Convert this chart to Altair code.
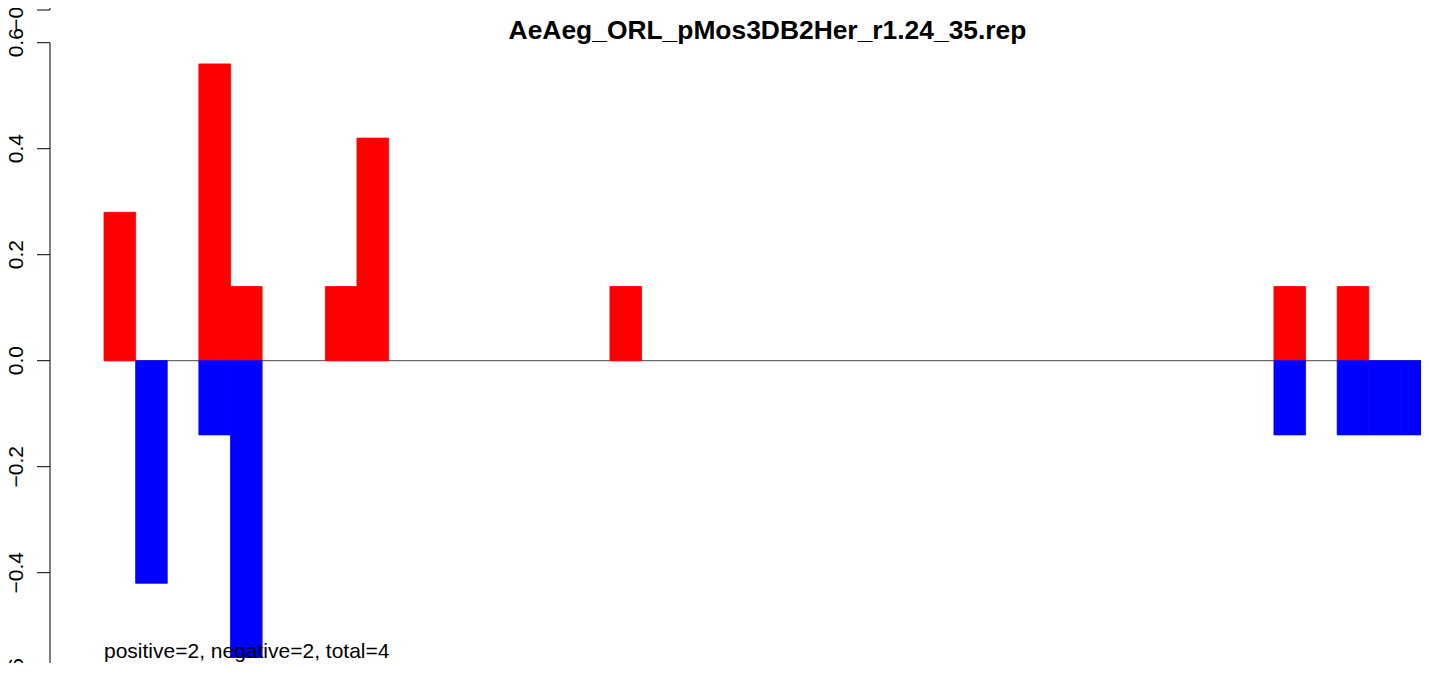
import altair as alt
import pandas as pd

# ---- data ----
bins = list(range(42))
pos_vals = [0.28, 0, 0, 0.56, 0.14, 0, 0, 0.14, 0.42, 0,
            0, 0, 0, 0, 0, 0, 0.14, 0, 0, 0,
            0, 0, 0, 0, 0, 0, 0, 0, 0, 0,
            0, 0, 0, 0, 0, 0, 0, 0.14, 0, 0.14,
            0, 0]
neg_vals = [0, -0.42, 0, -0.14, -0.56, 0, 0, 0, 0, 0,
            0, 0, 0, 0, 0, 0, 0, 0, 0, 0,
            0, 0, 0, 0, 0, 0, 0, 0, 0, 0,
            0, 0, 0, 0, 0, 0, 0, -0.14, 0, -0.14,
            -0.14, -0.14]
tick_values = [-0.6, -0.4, -0.2, 0.0, 0.2, 0.4, 0.6]
tick_labels = ["\u22120.6", "\u22120.4", "\u22120.2", "0.0", "0.2", "0.4", "0.6"]
title_text = "AeAeg_ORL_pMos3DB2Her_r1.24_35.rep"
note_text = "positive=2, negative=2, total=4"
prev_panel_label = "\u22120.6"

FONT = "Liberation Sans"
RED = "#ff0000"
BLUE = "#0000ff"

pos_df = pd.DataFrame({"x": bins, "x2": [b + 1 for b in bins], "v": pos_vals, "zero": 0.0})
pos_df = pos_df[pos_df["v"] != 0]
neg_df = pd.DataFrame({"x": bins, "x2": [b + 1 for b in bins], "v": neg_vals, "zero": 0.0})
neg_df = neg_df[neg_df["v"] != 0]
ticks = pd.DataFrame({"v": tick_values, "lab": tick_labels})
zero = pd.DataFrame({"x": [bins[0]], "x2": [bins[-1] + 1], "v": [0.0]})
axisline = pd.DataFrame({"v": [tick_values[-1]], "v2": [tick_values[0]]})
note = pd.DataFrame({"x": [bins[0]], "v": [-0.55], "t": [note_text]})

xscale = alt.Scale(domain=[-1.708, 41.651], nice=False, zero=False)
yscale = alt.Scale(domain=[-0.5704, 0.6655], nice=False, zero=False)

X = lambda f: alt.X(f, type="quantitative", scale=xscale, axis=None)
Y = lambda f: alt.Y(f, type="quantitative", scale=yscale, axis=None)

zero_line = alt.Chart(zero).mark_rule(color="#6b6b6b", strokeWidth=1.2, clip=True).encode(
    x=X("x"), x2="x2", y=Y("v"))

red_bars = alt.Chart(pos_df).mark_rect(clip=True, fill=RED, stroke=RED, strokeWidth=0.8).encode(
    x=X("x"), x2="x2", y=Y("zero"), y2="v")
blue_bars = alt.Chart(neg_df).mark_rect(clip=True, fill=BLUE, stroke=BLUE, strokeWidth=0.8).encode(
    x=X("x"), x2="x2", y=Y("zero"), y2="v")

axis_rule = alt.Chart(axisline).mark_rule(color="black", strokeWidth=1).encode(
    x=alt.value(0), y=Y("v"), y2="v2")
tick_rules = alt.Chart(ticks).mark_rule(color="black", strokeWidth=1).encode(
    x=alt.value(-13), x2=alt.value(0), y=Y("v"))
tick_text = alt.Chart(ticks).mark_text(
    angle=270, align="center", baseline="alphabetic", fontSize=21, font=FONT, color="black"
).encode(x=alt.value(-27), y=Y("v"), text="lab:N")

# fragment of the panel above (its bottom axis end)
prev = pd.DataFrame({"t": [prev_panel_label]})
prev_tick = alt.Chart(prev).mark_rule(color="black", strokeWidth=1).encode(
    x=alt.value(-13), x2=alt.value(0), y=alt.value(2))
prev_axis = alt.Chart(prev).mark_rule(color="black", strokeWidth=1).encode(
    x=alt.value(0), y=alt.value(0), y2=alt.value(2))
prev_text = alt.Chart(prev).mark_text(
    angle=270, align="center", baseline="alphabetic", fontSize=21, font=FONT, color="black"
).encode(x=alt.value(-27), y=alt.value(2), text="t:N")

title_df = pd.DataFrame({"t": [title_text]})
title_mark = alt.Chart(title_df).mark_text(
    align="center", baseline="alphabetic", fontSize=26.4, fontWeight="bold", font=FONT, color="black"
).encode(x=alt.value(717.5), y=alt.value(30.5), text="t:N")

note_mark = alt.Chart(note).mark_text(
    align="left", baseline="middle", fontSize=21, font=FONT, color="black"
).encode(x=X("x"), y=Y("v"), text="t:N")

chart = alt.layer(
    zero_line, red_bars, blue_bars, axis_rule, tick_rules, tick_text,
    prev_tick, prev_axis, prev_text, title_mark, note_mark
).properties(
    width=1371, height=655,
    autosize=alt.AutoSizeParams(type="none"),
    padding={"left": 42, "top": 0, "right": 0, "bottom": 0},
    background="white",
).configure_view(stroke=None)

chart.save("out.html", embed_options={"renderer": "svg", "actions": False})
